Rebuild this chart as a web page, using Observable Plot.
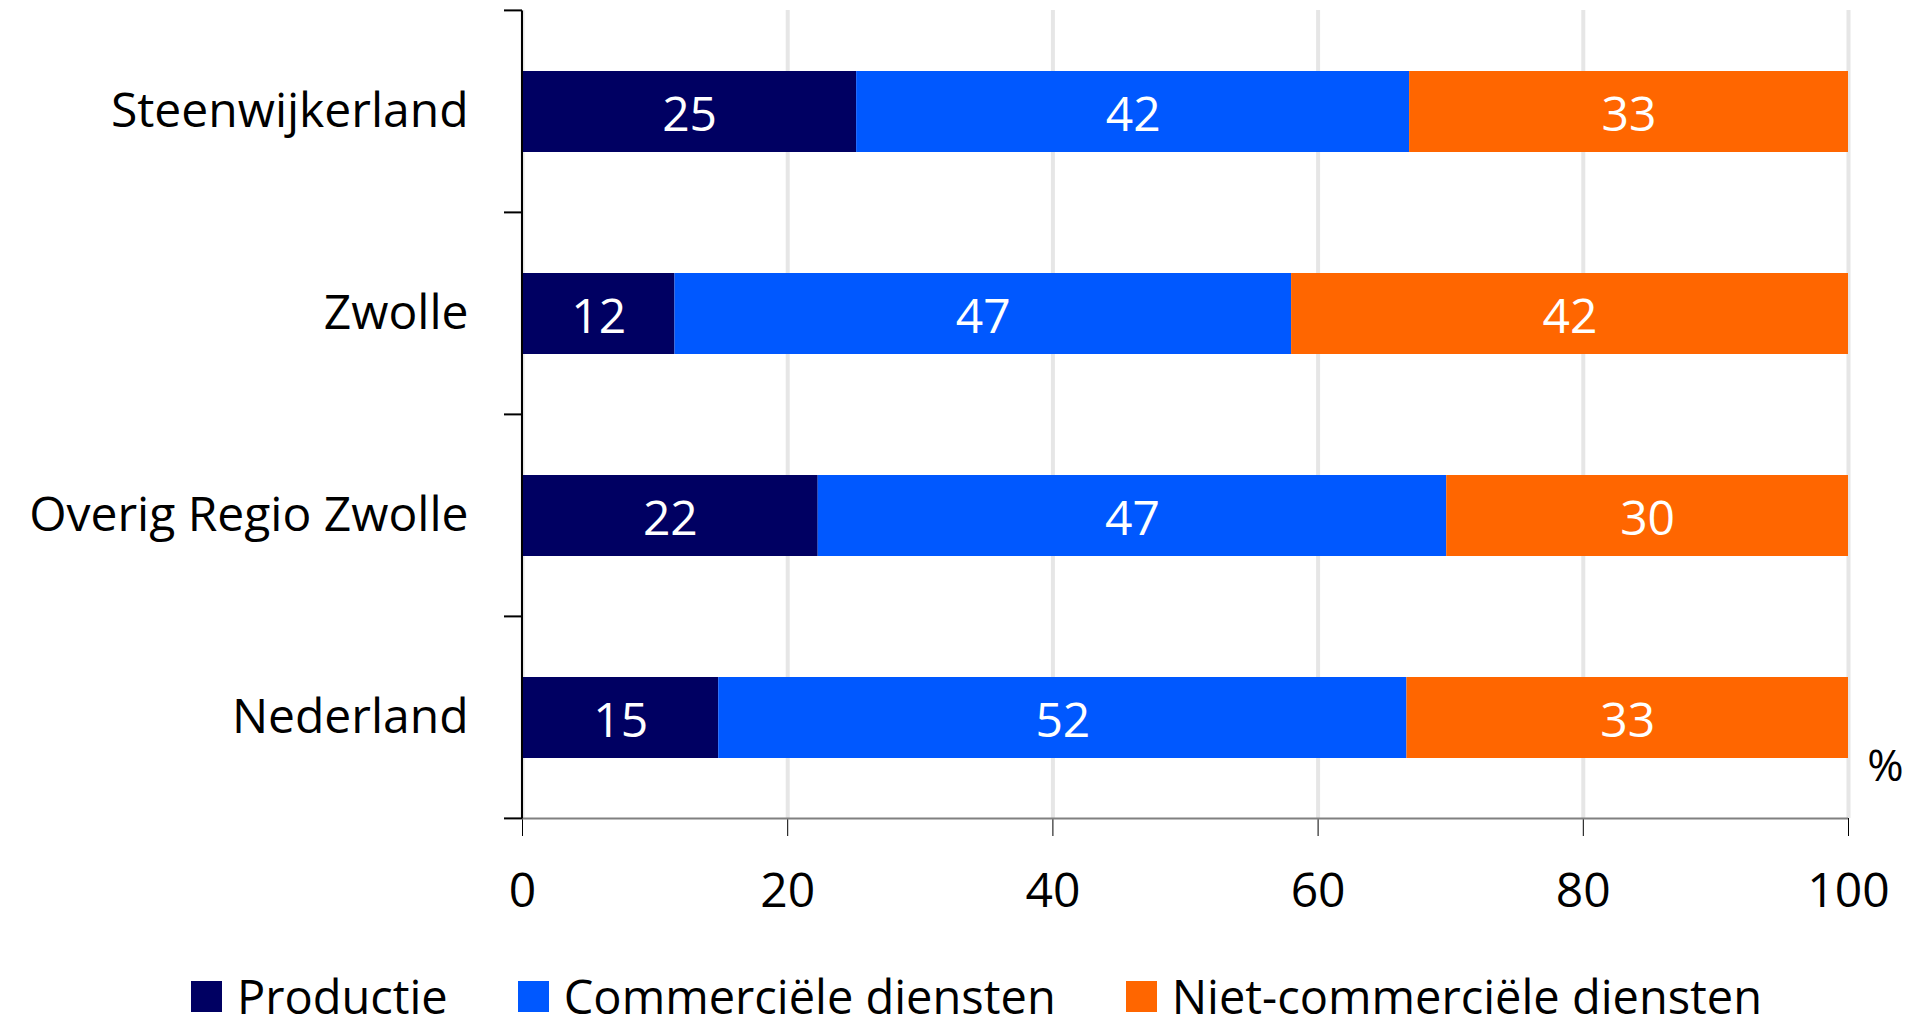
<!DOCTYPE html>
<html>
<head>
<meta charset="utf-8">
<script src="https://cdn.jsdelivr.net/npm/d3@7"></script>
<script src="https://cdn.jsdelivr.net/npm/@observablehq/plot@0.6"></script>
<style>
  html, body { margin: 0; padding: 0; background: #fff; }
  body { position: relative; width: 1905px; height: 1029px; overflow: hidden; font-family: "Open Sans", sans-serif; }
  #chart svg { display: block; }
  #legend { position: absolute; left: 0; top: 970px; width: 1905px; height: 52px; display: flex; align-items: center; justify-content: center; box-sizing: border-box; padding-left: 48px; gap: 70px; font-size: 47px; line-height: 1; color: #000; }
  .item { display: flex; align-items: center; gap: 15px; line-height: 1; }
  .sw { width: 31px; height: 31px; display: inline-block; }
</style>
</head>
<body>
<div id="chart"></div>
<div id="legend"></div>
<script>
const categories = ["Steenwijkerland", "Zwolle", "Overig Regio Zwolle", "Nederland"];
const sectors = ["Productie", "Commerciële diensten", "Niet-commerciële diensten"];
const productie = [25.2, 11.5, 22.3, 14.8];
const commercieel = [41.7, 46.5, 47.4, 51.9];
const nietCommercieel = [33.1, 42.0, 30.3, 33.3];
const colors = ["#000062", "#0058ff", "#ff6600"];
const xTicks = [0, 20, 40, 60, 80, 100];

const series = [productie, commercieel, nietCommercieel];
const rows = [];
categories.forEach((c, i) => sectors.forEach((s, j) => rows.push({cat: c, sector: s, value: series[j][i]})));

const FS = 48;

function axisFrame(index, scales, values, dims) {
  const y = scales.y, x = scales.x;
  const step = y(categories[1]) - y(categories[0]);
  const bw = (typeof y.bandwidth === "number") ? y.bandwidth : step * 0.4;
  const edges = categories.map(c => y(c) + bw / 2 - step / 2);
  edges.push(y(categories[categories.length - 1]) + bw / 2 + step / 2);
  const x0 = x(0), x1 = x(100);
  const g = d3.create("svg:g");
  g.append("line").attr("x1", x0).attr("x2", x1).attr("y1", edges[edges.length - 1]).attr("y2", edges[edges.length - 1])
    .attr("stroke", "#808080").attr("stroke-width", 2);
  g.append("line").attr("x1", x0).attr("x2", x0).attr("y1", edges[0]).attr("y2", edges[edges.length - 1])
    .attr("stroke", "#000").attr("stroke-width", 2);
  g.selectAll("line.t").data(edges).join("line").attr("class", "t")
    .attr("x1", x0 - 18).attr("x2", x0).attr("y1", d => d).attr("y2", d => d)
    .attr("stroke", "#000").attr("stroke-width", 2);
  return g.node();
}

const plot = Plot.plot({
  width: 1905,
  height: 966,
  marginTop: 10,
  marginBottom: 148,
  marginLeft: 522,
  marginRight: 57,
  style: {fontFamily: "'Open Sans', sans-serif", background: "#fff", color: "#000"},
  x: {domain: [0, 100]},
  y: {domain: categories, paddingInner: 0.6, paddingOuter: 0.3},
  color: {domain: sectors, range: colors},
  marks: [
    Plot.gridX(xTicks, {stroke: "#e6e6e6", strokeWidth: 4, strokeOpacity: 1}),
    Plot.barX(rows, Plot.stackX({x: "value", y: "cat", fill: "sector", order: sectors})),
    Plot.text(rows, Plot.stackX({x: "value", y: "cat", z: "sector", order: sectors, text: d => String(Math.round(d.value)), fill: "#fff", fontSize: FS, dy: 4})),
    Plot.axisX({ticks: xTicks, tickSize: 18, tickPadding: 36, fontSize: FS, label: null, tickFormat: d => String(d), stroke: "#000"}),
    Plot.axisY({tickSize: 0, tickPadding: 54, fontSize: FS, label: null}),
    axisFrame,
    Plot.text(["%"], {frameAnchor: "bottom-right", dx: 37, dy: -38, textAnchor: "middle", fontSize: 44, fill: "#000"})
  ]
});
document.getElementById("chart").appendChild(plot);

const legend = document.getElementById("legend");
sectors.forEach((s, i) => {
  const item = document.createElement("div");
  item.className = "item";
  const sw = document.createElement("span");
  sw.className = "sw";
  sw.style.background = colors[i];
  const t = document.createElement("span");
  t.textContent = s;
  item.appendChild(sw); item.appendChild(t);
  legend.appendChild(item);
});
</script>
</body>
</html>
